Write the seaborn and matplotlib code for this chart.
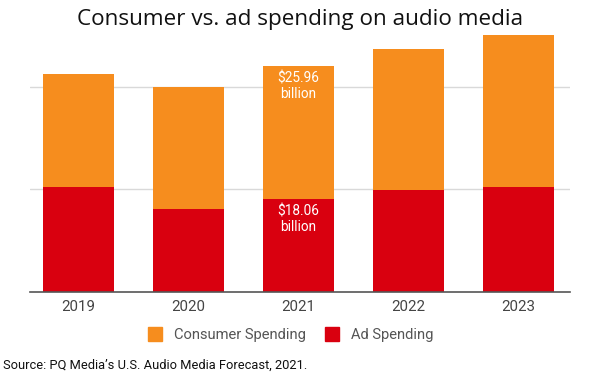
import pandas as pd
import matplotlib.pyplot as plt
import seaborn as sns
from matplotlib.lines import Line2D

# valores (bilhoes de dolares)
anos = ["2019", "2020", "2021", "2022", "2023"]
gasto_consumidor = [22.0, 23.8, 25.96, 27.6, 29.5]
gasto_anuncios = [20.5, 16.1, 18.06, 19.8, 20.5]
rotulos_grade = [20, 40]

cor_consumidor = "#F68D1E"
cor_anuncios = "#D9000F"

dados = pd.DataFrame({"ano": anos, "consumidor": gasto_consumidor, "anuncios": gasto_anuncios})
dados["total"] = dados["consumidor"] + dados["anuncios"]

sns.set_style("white")
plt.rcParams['font.family'] = ['Roboto', 'DejaVu Sans']

fig = plt.figure(figsize=(6, 3.75), dpi=100)
ax = fig.add_axes([0.05, 1 - 291.7 / 375, 0.9, 55 * 5.125 / 375])

''' barras empilhadas '''
sns.barplot(data=dados, x="ano", y="total", color=cor_consumidor, width=0.645,
            saturation=1, ax=ax, zorder=2, linewidth=0, edgecolor="none")
sns.barplot(data=dados, x="ano", y="anuncios", color=cor_anuncios, width=0.645,
            saturation=1, ax=ax, zorder=3, linewidth=0, edgecolor="none")

ax.set_ylim(0, 55)
ax.set_xlim(-0.44, 4.47)
ax.set_yticks(rotulos_grade)
ax.set_yticklabels([])
ax.yaxis.grid(True, color="#d9d9d9", linewidth=1, zorder=0)
ax.set_axisbelow(True)
ax.set_xlabel("")
ax.set_ylabel("")
ax.tick_params(axis="both", length=0)
ax.tick_params(axis="x", labelsize=10.8, labelcolor="#444444", pad=6)
for lado in ["top", "right", "left"]:
    ax.spines[lado].set_visible(False)
ax.spines["bottom"].set_color("#555555")
ax.spines["bottom"].set_linewidth(1.2)
ax.spines["bottom"].set_zorder(4)

''' rotulos de 2021 '''
i = anos.index("2021")
ax.annotate(f"${gasto_consumidor[i]:.2f}\nbillion", xy=(i, dados["total"][i]),
            xytext=(0, -4), textcoords="offset points", ha="center", va="top",
            color="white", fontsize=9.8, linespacing=1.15, zorder=5)
ax.annotate(f"${gasto_anuncios[i]:.2f}\nbillion", xy=(i, gasto_anuncios[i]),
            xytext=(0, -4), textcoords="offset points", ha="center", va="top",
            color="white", fontsize=9.8, linespacing=1.15, zorder=5)

fig.text(0.5, 1 - 20 / 375, "Consumer vs. ad spending on audio media",
         ha="center", va="center", fontsize=16.2, family=["Open Sans", "DejaVu Sans"],
         color="#111111")

''' legenda '''
marcadores = [
    Line2D([], [], marker="s", linestyle="", markersize=10, color=cor_consumidor),
    Line2D([], [], marker="s", linestyle="", markersize=10, color=cor_anuncios),
]
leg = fig.legend(marcadores, ["Consumer Spending", "Ad Spending"], loc="center",
                 bbox_to_anchor=(287 / 600, 1 - 335 / 375), ncol=2, frameon=False,
                 fontsize=10.6, handletextpad=0.3, columnspacing=0.8)
for t in leg.get_texts():
    t.set_color("#555555")

fig.text(3 / 600, 1 - 365 / 375, "Source: PQ Media\u2019s U.S. Audio Media Forecast, 2021.",
         ha="left", va="center", fontsize=9.3, color="#111111")

fig.savefig("out.png", dpi=100)
